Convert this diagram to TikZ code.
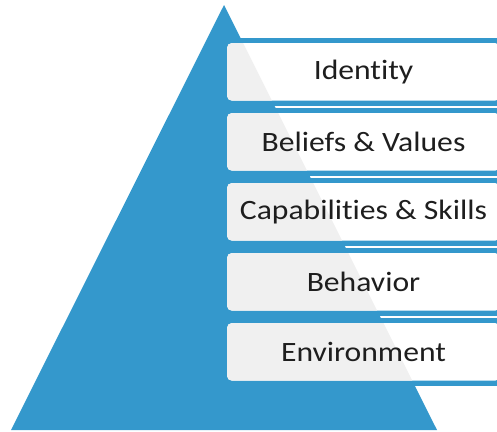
\documentclass[tikz,border=0pt]{standalone}
\usepackage{fontspec}
\setmainfont{Carlito}[FakeStretch=1.13,Ligatures=NoCommon,RawFeature={-liga;-dlig}]
\definecolor{pblue}{RGB}{52,152,204}
\definecolor{boxgray}{RGB}{240,240,240}
\definecolor{txtgray}{RGB}{30,30,30}
\begin{document}
\begin{tikzpicture}[x=1pt,y=-1pt,
  band/.style={fill=pblue},
  levelbox/.style={rectangle, rounded corners=5pt, fill=white, draw=none,
    minimum width=273pt, minimum height=57.7pt, inner sep=0pt,
    text=txtgray, font=\fontsize{28}{32}\selectfont,
    path picture={\fill[boxgray] (tl) -- (ta) -- (tr) -- cycle;}}]
\useasboundingbox (0,0) rectangle (497,431);
\clip (0,0) rectangle (497,431);
\coordinate (tl) at (11,430);
\coordinate (ta) at (224,5);
\coordinate (tr) at (437,430);
% blue bands behind each box
\foreach \i in {0,...,4}{
  \fill[band] (227,{38+70*\i}) rectangle (505,{105.5+70*\i});
}
% pyramid
\fill[pblue] (tl) -- (ta) -- (tr) -- cycle;
% boxes
\node[levelbox] (identity) at (363.5,71.85) {Identity};
\node[levelbox] (beliefs)  at (363.5,141.85) {Beliefs \& Values};
\node[levelbox] (capab)    at (363.5,211.85) {Capabilities \& Skills};
\node[levelbox] (behavior) at (363.5,281.85) {Behavior};
\node[levelbox] (environ)  at (363.5,351.85) {Environment};
\end{tikzpicture}
\end{document}
